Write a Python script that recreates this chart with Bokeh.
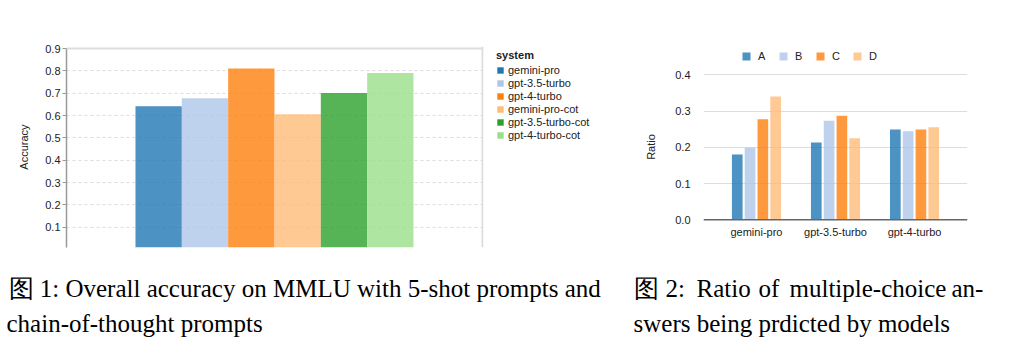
from bokeh.plotting import figure
from bokeh.models import (FactorRange, Range1d, Legend, LegendItem, Span, ColumnDataSource,
                          FixedTicker, NumeralTickFormatter, BoxAnnotation)
from bokeh.layouts import row, column
from bokeh.embed import file_html
from bokeh.resources import INLINE
from bokeh.core.properties import value
from bokeh.transform import dodge

# ---------------- data ----------------
systems = ["gemini-pro", "gpt-3.5-turbo", "gpt-4-turbo",
           "gemini-pro-cot", "gpt-3.5-turbo-cot", "gpt-4-turbo-cot"]
accuracy = [0.641, 0.677, 0.810, 0.606, 0.701, 0.790]
system_colors = ["#1f77b4", "#aec7e8", "#ff7f0e", "#ffbb78", "#2ca02c", "#98df8a"]
accuracy_ticks = [0.1, 0.2, 0.3, 0.4, 0.5, 0.6, 0.7, 0.8, 0.9]

models = ["gemini-pro", "gpt-3.5-turbo", "gpt-4-turbo"]
choices = ["A", "B", "C", "D"]
ratio_A = [0.180, 0.213, 0.249]
ratio_B = [0.199, 0.273, 0.244]
ratio_C = [0.277, 0.287, 0.249]
ratio_D = [0.340, 0.225, 0.255]
choice_colors = ["#1f77b4", "#aec7e8", "#ff7f0e", "#ffbb78"]
ratio_ticks = [0.0, 0.1, 0.2, 0.3, 0.4]

caption1 = ["图 1: Overall accuracy on MMLU with 5-shot prompts and", "chain-of-thought prompts"]
caption2 = ["图 2: Ratio of multiple-choice an-", "swers being prdicted by models"]

SANS = "Liberation Sans"
TXT = "#222222"

# ---------------- chart 1 ----------------
# frame spans 66..620 px; plot area (with border) ends at 416 px into the frame,
# the rest holds the legend
src1 = ColumnDataSource(dict(pos=list(range(len(systems))), system=systems,
                             accuracy=accuracy, color=system_colors))
p1 = figure(width=620, height=250,
            x_range=Range1d(-1.989, 9.968),
            y_range=Range1d(0.0093, 0.909),
            x_axis_location=None,
            min_border_left=66, min_border_right=0, min_border_top=46, min_border_bottom=3,
            output_backend="svg", toolbar_location=None)
p1.outline_line_color = None
p1.vbar(x="pos", top="accuracy", bottom=0, width=1.0, source=src1,
        fill_color="color", fill_alpha=0.8, line_color=None)
# zero-width twin used only for full-colour legend swatches
swatch = p1.vbar(x="pos", top="accuracy", bottom=0, width=0.0, source=src1,
                 fill_color="color", fill_alpha=1.0, line_color=None)
p1.xgrid.visible = False
p1.ygrid.grid_line_color = "#dddddd"
p1.ygrid.grid_line_dash = "3 3"
p1.ygrid.grid_line_width = 1
p1.ygrid.ticker = FixedTicker(ticks=accuracy_ticks)
ya = p1.yaxis[0]
ya.ticker = FixedTicker(ticks=accuracy_ticks)
ya.bounds = (0, 0.9)
ya.formatter = NumeralTickFormatter(format="0.0")
ya.axis_line_color = "#999999"
ya.axis_line_width = 1.5
ya.major_tick_line_color = "#999999"
ya.major_tick_out = 4
ya.major_tick_in = 0
ya.minor_tick_line_color = None
ya.major_label_standoff = 2
ya.major_label_text_font = SANS
ya.major_label_text_font_size = "11px"
ya.major_label_text_color = TXT
ya.axis_label = "Accuracy"
ya.axis_label_text_font = SANS
ya.axis_label_text_font_size = "11px"
ya.axis_label_text_font_style = "normal"
ya.axis_label_text_color = TXT
ya.axis_label_standoff = 12

p1.add_layout(Span(location=0.9, dimension="width", line_color="#dddddd", line_width=2))
p1.add_layout(Span(location=416, location_units="screen", dimension="height",
                   line_color="#dddddd", line_width=2))
p1.add_layout(BoxAnnotation(left=483, right=620, top=0, bottom=250,
                            left_units="canvas", right_units="canvas",
                            top_units="canvas", bottom_units="canvas",
                            fill_color="white", fill_alpha=1.0, line_color=None))

leg1 = Legend(items=[LegendItem(label=s, renderers=[swatch], index=i) for i, s in enumerate(systems)],
              title="system", location=(430, 106),
              glyph_width=8, glyph_height=8, label_height=12, label_standoff=4, spacing=1,
              padding=0, margin=0, border_line_color=None, background_fill_alpha=0,
              label_text_font=SANS, label_text_font_size="11px", label_text_color=TXT,
              title_text_font=SANS, title_text_font_size="11px", title_text_font_style="bold",
              title_text_color=TXT, title_standoff=3)
p1.add_layout(leg1)

# ---------------- chart 2 ----------------
src2 = ColumnDataSource(dict(model=models, A=ratio_A, B=ratio_B, C=ratio_C, D=ratio_D))
p2 = figure(width=412, height=250,
            x_range=FactorRange(factors=models, range_padding=0.17, range_padding_units="absolute"),
            y_range=Range1d(-0.0764, 0.478),
            x_axis_location=None,
            min_border_left=83, min_border_right=65, min_border_top=46, min_border_bottom=3,
            output_backend="svg", toolbar_location=None)
p2.outline_line_color = None
renderers2 = []
for j, c in enumerate(choices):
    r = p2.vbar(x=dodge("model", (j - 1.5) * 0.162, range=p2.x_range), top=c, bottom=0,
                width=0.135, source=src2, fill_color=choice_colors[j], fill_alpha=0.8,
                line_color=None)
    renderers2.append(r)
p2.xgrid.visible = False
p2.ygrid.grid_line_color = "#dddddd"
p2.ygrid.grid_line_width = 1
p2.ygrid.ticker = FixedTicker(ticks=ratio_ticks)
yb = p2.yaxis[0]
yb.ticker = FixedTicker(ticks=ratio_ticks)
yb.formatter = NumeralTickFormatter(format="0.0")
yb.axis_line_color = None
yb.major_tick_line_color = None
yb.minor_tick_line_color = None
yb.major_label_standoff = 7
yb.major_label_text_font = SANS
yb.major_label_text_font_size = "11px"
yb.major_label_text_color = TXT
yb.axis_label = "Ratio"
yb.axis_label_text_font = SANS
yb.axis_label_text_font_size = "11px"
yb.axis_label_text_font_style = "normal"
yb.axis_label_text_color = TXT
yb.axis_label_standoff = 15
# baseline (x axis) and category labels
p2.add_layout(Span(location=0, dimension="width", line_color="#666666", line_width=1.5))
p2.text(x="model", y=0, text="model", source=src2, y_offset=12,
        text_align="center", text_baseline="middle",
        text_font=value(SANS), text_font_size="11px", text_color=TXT)

leg2 = Legend(items=[LegendItem(label=c, renderers=[r]) for c, r in zip(choices, renderers2)],
              orientation="horizontal", location=(38, 185),
              glyph_width=10, glyph_height=10, label_width=20, label_height=12,
              label_standoff=7, spacing=0, padding=0, margin=0,
              border_line_color=None, background_fill_alpha=0,
              label_text_font=SANS, label_text_font_size="11px", label_text_color=TXT)
p2.add_layout(leg2)

# ---------------- captions ----------------
p3 = figure(width=1032, height=109, x_range=Range1d(0, 1032), y_range=Range1d(109, 0),
            x_axis_location=None, y_axis_location=None, min_border=0,
            output_backend="svg", toolbar_location=None)
p3.outline_line_color = None
p3.grid.visible = False
cap2_words = caption2[0].split(" ")
cap2_word_x = [633, 665, 696, 758, 789, 951]
cap_text = [caption1[0], caption1[1]] + cap2_words + [caption2[1]]
cap_x = [8, 6] + cap2_word_x + [633]
cap_y = [38, 73] + [38] * len(cap2_words) + [73]
p3.text(x=cap_x, y=cap_y, text=cap_text,
        text_font=value("Liberation Serif"), text_font_size="25px",
        text_baseline="alphabetic", text_align="left", text_color="black")

layout = column(row(p1, p2), p3)
open("out.html", "w").write(file_html(layout, INLINE))
